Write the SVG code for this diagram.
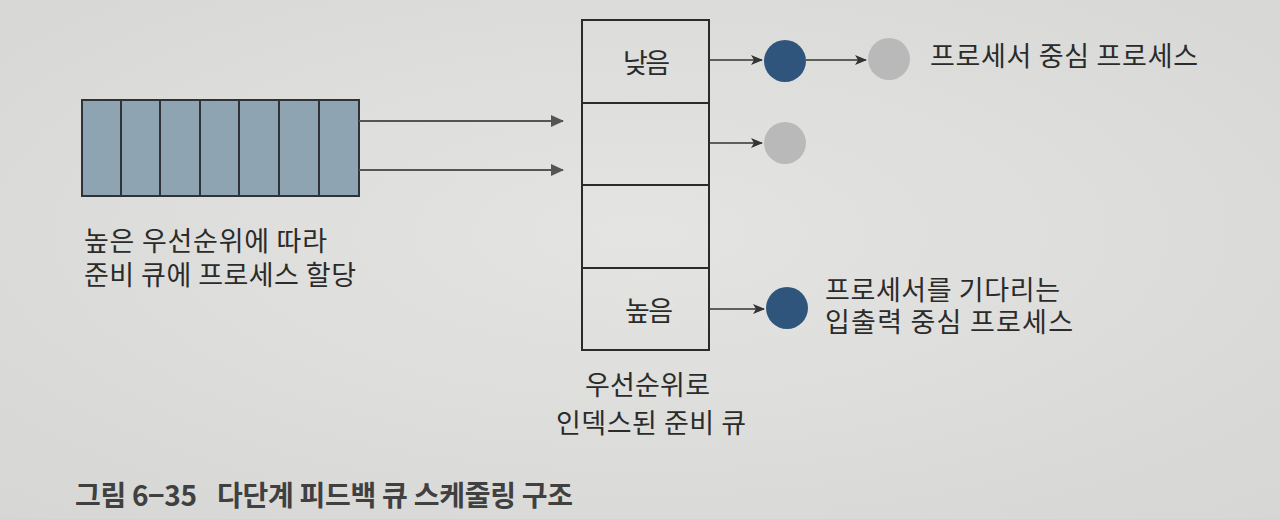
<svg xmlns="http://www.w3.org/2000/svg" width="1280" height="519" viewBox="0 0 1280 519">
<style>
.t{font-family:"Noto Sans CJK KR","Noto Sans",sans-serif;font-size:27px;fill:#2b2b2b}
.cap{font-family:"Noto Sans CJK KR","Noto Sans",sans-serif;font-size:28px;font-weight:bold;fill:#404040}
.box{fill:none;stroke:#2b2b2b;stroke-width:2}
.cell{fill:#8fa4b3;stroke:#2f3338;stroke-width:2}
.ln{stroke:#333;stroke-width:1.6;fill:none}
.q{stroke:#555;stroke-width:2.2;fill:none}
.dark{fill:#30557d}
.gray{fill:#b9b9b9}
</style>
<defs>
<marker id="ah" markerWidth="12" markerHeight="10" refX="11" refY="5" orient="auto" markerUnits="userSpaceOnUse">
<path d="M0,0 L12,5 L0,10 L3,5 Z" fill="#333"/>
</marker>
<marker id="ahq" markerWidth="13" markerHeight="12" refX="12" refY="6" orient="auto" markerUnits="userSpaceOnUse">
<path d="M0,0 L13,6 L0,12 Z" fill="#555"/>
</marker>
<radialGradient id="bg" cx="0.5" cy="0.45" r="0.75">
<stop offset="0" stop-color="#e4e4e2"/>
<stop offset="1" stop-color="#d6d6d4"/>
</radialGradient>
</defs>
<rect width="1280" height="519" fill="url(#bg)"/>

<g id="input-queue">
<rect class="cell" x="82" y="100" width="277" height="96"/>
<path class="cell" d="M121,100V196M160,100V196M200,100V196M239,100V196M279,100V196M319,100V196"/>
</g>
<g id="input-label">
<text class="t"><tspan x="84" y="251" textLength="243" lengthAdjust="spacing">높은 우선순위에 따라</tspan><tspan x="84" y="285" textLength="272" lengthAdjust="spacing">준비 큐에 프로세스 할당</tspan></text>
</g>

<g id="ready-queue">
<rect class="box" x="582" y="20" width="127" height="330"/>
<path class="box" d="M582,103H709M582,185H709M582,268H709"/>
<text class="t" x="623" y="73" textLength="47" lengthAdjust="spacing">낮음</text>
<text class="t" x="625" y="321" textLength="48" lengthAdjust="spacing">높음</text>
</g>
<g id="ready-label">
<text class="t"><tspan x="585" y="395" textLength="125" lengthAdjust="spacing">우선순위로</tspan><tspan x="556" y="433" textLength="190" lengthAdjust="spacing">인덱스된 준비 큐</tspan></text>
</g>

<g id="p1"><circle class="dark" cx="785" cy="61" r="21"/></g>
<g id="p2"><circle class="gray" cx="889" cy="59" r="21"/></g>
<g id="p3"><circle class="gray" cx="785" cy="143" r="21"/></g>
<g id="p4"><circle class="dark" cx="787" cy="308" r="21"/></g>

<g id="label-cpu"><text class="t" x="930" y="66" textLength="268" lengthAdjust="spacing">프로세서 중심 프로세스</text></g>
<g id="label-io">
<text class="t"><tspan x="825" y="300" textLength="235" lengthAdjust="spacing">프로세서를 기다리는</tspan><tspan x="825" y="332" textLength="248" lengthAdjust="spacing">입출력 중심 프로세스</tspan></text>
</g>

<g id="connectors">
<line class="q" x1="359" y1="121" x2="563" y2="121" marker-end="url(#ahq)"/>
<line class="q" x1="359" y1="170" x2="563" y2="170" marker-end="url(#ahq)"/>
<line class="ln" x1="709" y1="60" x2="762" y2="60" marker-end="url(#ah)"/>
<line class="ln" x1="806" y1="60" x2="866" y2="60" marker-end="url(#ah)"/>
<line class="ln" x1="709" y1="143" x2="762" y2="143" marker-end="url(#ah)"/>
<line class="ln" x1="709" y1="309" x2="764" y2="309" marker-end="url(#ah)"/>
</g>

<g id="caption">
<text class="cap" x="75" y="506" textLength="122" lengthAdjust="spacing">그림 6−35</text>
<text class="cap" x="217" y="506" textLength="356" lengthAdjust="spacing">다단계 피드백 큐 스케줄링 구조</text>
</g>
</svg>
